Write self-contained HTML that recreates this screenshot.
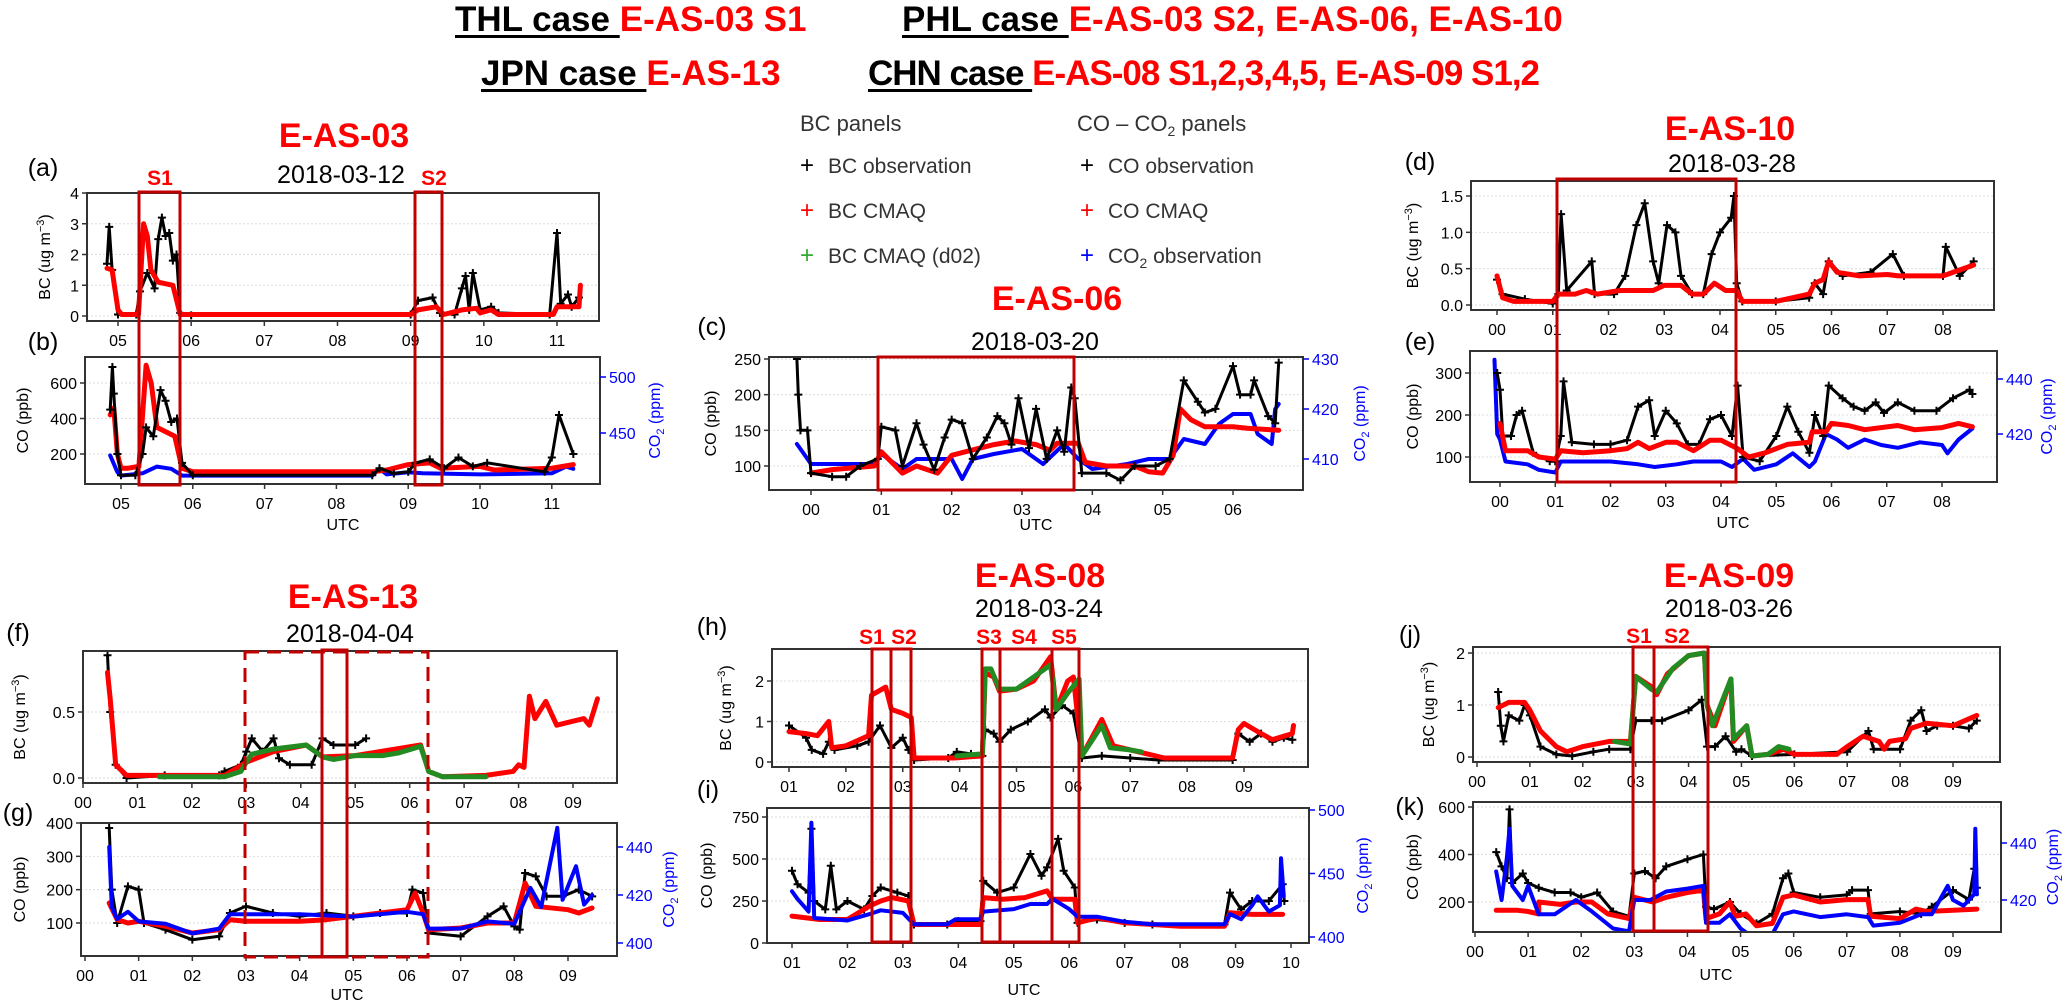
<!DOCTYPE html>
<html><head><meta charset="utf-8">
<style>
html,body{margin:0;padding:0;background:#fff;}
#wrap{position:relative;width:2067px;height:1006px;overflow:hidden;font-family:"Liberation Sans",sans-serif;}
.hdr{position:absolute;font-weight:bold;font-size:35px;white-space:nowrap;line-height:1;}
.hdr .k{color:#000;text-decoration:underline;text-decoration-thickness:3px;text-underline-offset:4px;}
.hdr .r{color:#f00;}
svg{position:absolute;left:0;top:0;}
</style></head>
<body>
<div id="wrap">
<div class="hdr" style="left:455px;top:2px"><span class="k">THL case </span><span class="r">E-AS-03 S1</span></div>
<div class="hdr" style="left:902px;top:2px"><span class="k">PHL case </span><span class="r">E-AS-03 S2, E-AS-06, E-AS-10</span></div>
<div class="hdr" style="left:481px;top:56px"><span class="k">JPN case </span><span class="r">E-AS-13</span></div>
<div class="hdr" style="left:868px;top:56px;letter-spacing:-1px"><span class="k">CHN case </span><span class="r">E-AS-08 S1,2,3,4,5, E-AS-09 S1,2</span></div>
<svg id="fig" width="2067" height="1006" viewBox="0 0 2067 1006"></svg>
</div>
<script>
// ---------- DATA (time in UTC hours, value) ----------
const A_BC_OBS=[[4.85,1.7],[4.88,2.9],[4.92,1.5],[5.0,0.05],[5.25,0.05],[5.3,0.8],[5.4,1.4],[5.5,0.9],[5.55,2.5],[5.6,3.2],[5.65,2.6],[5.7,2.7],[5.75,1.8],[5.8,2.0],[5.85,0.1],[6.0,0.02],[9.0,0.05],[9.1,0.5],[9.3,0.6],[9.4,0.1],[9.6,0.05],[9.7,0.9],[9.75,1.3],[9.8,0.2],[9.85,1.4],[9.95,0.2],[10.1,0.3],[10.2,0.1],[10.9,0.05],[11.0,2.7],[11.05,0.4],[11.15,0.7],[11.2,0.3],[11.3,0.6]];
const A_BC_CMAQ=[[4.85,1.55],[4.92,1.5],[5.0,0.2],[5.05,0.05],[5.28,0.05],[5.35,3.0],[5.4,2.6],[5.45,1.5],[5.55,1.1],[5.75,1.0],[5.85,0.05],[9.0,0.05],[9.1,0.2],[9.35,0.3],[9.45,0.05],[9.7,0.2],[9.9,0.25],[9.95,0.1],[10.1,0.2],[10.2,0.05],[10.95,0.05],[11.0,0.3],[11.3,0.3],[11.32,1.0]];
const B_CO_OBS=[[4.85,450],[4.88,690],[4.9,540],[4.95,200],[5.0,80],[5.2,80],[5.3,200],[5.35,350],[5.45,300],[5.55,560],[5.62,500],[5.7,380],[5.78,400],[5.85,150],[6,80],[8.5,80],[8.6,120],[8.8,90],[9.0,100],[9.1,150],[9.3,170],[9.5,120],[9.7,180],[9.9,130],[10.1,150],[10.9,100],[11,180],[11.1,420],[11.3,200]];
const B_CO_CMAQ=[[4.85,420],[4.9,460],[4.95,200],[5.0,120],[5.1,120],[5.25,130],[5.35,700],[5.42,600],[5.5,350],[5.75,300],[5.85,120],[6.0,100],[8.5,100],[8.7,110],[9.0,140],[9.3,150],[9.45,120],[10,130],[10.2,110],[11,120],[11.3,140]];
const B_CO2_OBS=[[4.85,430],[4.95,415],[5.0,412],[5.3,414],[5.5,420],[5.7,418],[5.85,412],[8.5,412],[8.6,418],[8.7,413],[9.0,415],[9.2,414],[10,413],[11,414],[11.2,420],[11.3,418]];
const C_CO_OBS=[[-0.2,250],[-0.18,200],[-0.15,150],[-0.05,150],[0,90],[0.3,85],[0.5,85],[0.7,100],[0.95,110],[1.0,155],[1.2,150],[1.3,100],[1.5,160],[1.6,130],[1.75,95],[1.9,140],[2.0,165],[2.15,160],[2.3,110],[2.5,140],[2.65,170],[2.75,160],[2.85,130],[2.95,195],[3.1,125],[3.2,180],[3.35,110],[3.5,150],[3.6,120],[3.7,210],[3.75,195],[3.85,90],[4.2,90],[4.4,80],[4.6,100],[4.9,100],[5.1,110],[5.3,220],[5.5,190],[5.6,175],[5.75,180],[6.0,240],[6.1,200],[6.25,200],[6.3,220],[6.5,170],[6.6,160],[6.65,245]];
const C_CO_CMAQ=[[0,90],[0.3,95],[0.9,100],[1.0,120],[1.2,100],[1.3,90],[1.5,100],[1.8,90],[2.0,115],[2.2,120],[2.6,130],[2.9,135],[3.2,130],[3.4,122],[3.5,132],[3.8,132],[3.9,105],[4.2,100],[4.6,100],[4.8,92],[5.0,90],[5.15,115],[5.25,180],[5.4,165],[5.6,155],[6.0,155],[6.2,153],[6.65,150]];
const C_CO2_OBS=[[-0.2,413],[-0.1,411],[0,409],[0.5,409],[0.9,409],[1.0,411],[1.3,408],[1.5,410],[2.0,410],[2.15,406],[2.3,410],[2.6,411],[3.0,412],[3.3,409],[3.6,413],[3.8,410],[4.0,408],[4.5,409],[4.8,410],[5.1,410],[5.3,414],[5.6,413],[5.8,417],[6.0,419],[6.25,419],[6.35,415],[6.55,413],[6.6,420],[6.65,421]];
const D_BC_OBS=[[0,0.35],[0.1,0.15],[0.5,0.08],[1.0,0.02],[1.1,0.15],[1.15,1.25],[1.25,0.2],[1.7,0.6],[1.75,0.15],[2.1,0.15],[2.3,0.4],[2.5,1.1],[2.65,1.4],[2.8,0.6],[2.9,0.3],[3.05,1.1],[3.2,1.0],[3.3,0.4],[3.5,0.15],[3.7,0.15],[3.85,0.7],[4.0,1.0],[4.2,1.2],[4.25,1.5],[4.3,0.3],[4.4,0.05],[5.0,0.05],[5.6,0.1],[5.7,0.3],[5.85,0.15],[5.95,0.6],[6.2,0.4],[6.7,0.45],[7.1,0.7],[7.3,0.4],[8.0,0.4],[8.05,0.8],[8.3,0.4],[8.55,0.6]];
const D_BC_CMAQ=[[0,0.4],[0.1,0.1],[0.3,0.05],[1.0,0.05],[1.1,0.15],[1.4,0.15],[1.6,0.2],[1.8,0.15],[2.2,0.2],[2.8,0.2],[3.0,0.27],[3.3,0.27],[3.5,0.15],[3.7,0.15],[3.9,0.3],[4.1,0.2],[4.3,0.2],[4.4,0.05],[5.0,0.05],[5.6,0.15],[5.7,0.3],[5.85,0.35],[5.95,0.6],[6.1,0.45],[6.5,0.4],[7.0,0.42],[7.2,0.4],[8.0,0.4],[8.55,0.55]];
const E_CO_OBS=[[-0.05,300],[0,260],[0.05,150],[0.2,150],[0.3,200],[0.4,210],[0.6,110],[0.9,90],[1.0,90],[1.1,150],[1.15,280],[1.3,135],[1.7,130],[2.0,130],[2.3,140],[2.5,220],[2.7,235],[2.8,150],[3.0,210],[3.2,180],[3.4,130],[3.6,130],[3.8,190],[4.0,200],[4.2,150],[4.3,270],[4.4,100],[4.7,90],[5.0,150],[5.2,220],[5.4,160],[5.6,110],[5.7,200],[5.85,150],[5.95,270],[6.2,240],[6.4,220],[6.6,210],[6.8,230],[6.95,205],[7.2,230],[7.5,210],[7.9,210],[8.2,240],[8.5,260],[8.55,250]];
const E_CO_CMAQ=[[0,180],[0.1,115],[0.5,115],[0.7,100],[1.0,95],[1.1,115],[1.5,110],[2.0,115],[2.3,120],[2.5,135],[2.7,120],[3.0,135],[3.2,135],[3.5,115],[3.8,140],[4.0,140],[4.3,120],[4.5,100],[4.8,110],[5.2,130],[5.6,135],[5.65,160],[5.9,160],[6.0,180],[6.3,175],[6.6,165],[7.2,175],[7.5,165],[8.0,170],[8.3,180],[8.55,172]];
const E_CO2_OBS=[[-0.1,447],[-0.05,420],[0,418],[0.1,410],[0.5,409],[0.7,407],[1.0,406],[1.1,410],[1.5,410],[2.0,410],[2.5,409],[2.8,408],[3.2,409],[3.5,410],[4.0,410],[4.2,408],[4.4,411],[4.6,407],[5.0,409],[5.3,413],[5.6,408],[5.7,410],[5.9,420],[6.1,418],[6.3,415],[6.6,418],[6.9,416],[7.2,415],[7.6,417],[8.0,416],[8.1,413],[8.3,418],[8.55,422]];
const F_BC_OBS=[[0.45,0.93],[0.5,0.5],[0.6,0.1],[0.8,0.0],[1.5,0.02],[2.5,0.02],[2.6,0.05],[2.9,0.1],[3.0,0.2],[3.1,0.3],[3.3,0.2],[3.5,0.3],[3.6,0.15],[3.8,0.1],[4.2,0.1],[4.4,0.3],[4.6,0.25],[5.0,0.25],[5.2,0.3]];
const F_BC_CMAQ=[[0.45,0.8],[0.5,0.6],[0.6,0.1],[0.8,0.02],[2.6,0.02],[3.0,0.12],[3.5,0.2],[4.1,0.25],[4.4,0.16],[5.0,0.17],[6.2,0.25],[6.35,0.05],[6.6,0.01],[7.4,0.02],[7.9,0.05],[8.0,0.1],[8.1,0.08],[8.2,0.62],[8.3,0.45],[8.5,0.58],[8.7,0.4],[9.0,0.43],[9.2,0.45],[9.3,0.4],[9.45,0.6]];
const F_BC_D02=[[1.4,0.01],[2.6,0.01],[2.9,0.05],[3.0,0.12],[3.1,0.18],[3.5,0.22],[4.1,0.25],[4.2,0.22],[4.4,0.16],[4.6,0.14],[5.0,0.17],[5.5,0.17],[5.8,0.19],[6.2,0.24],[6.35,0.05],[6.6,0.01],[7.4,0.01]];
const G_CO_OBS=[[0.45,385],[0.5,200],[0.6,100],[0.8,210],[1.0,200],[1.1,100],[1.5,80],[2.0,50],[2.5,60],[2.7,130],[3.0,150],[3.5,130],[4.0,120],[4.5,130],[5.0,120],[5.5,130],[6.0,130],[6.1,200],[6.3,190],[6.4,70],[7.0,60],[7.5,120],[7.8,150],[8.0,90],[8.1,80],[8.2,250],[8.4,240],[8.6,180],[8.9,180],[9.2,200],[9.45,180]];
const G_CO_CMAQ=[[0.45,160],[0.6,110],[0.8,100],[1.0,105],[1.5,90],[2.0,70],[2.5,80],[2.7,110],[3.0,105],[4.0,105],[4.5,110],[5.0,120],[6.0,140],[6.15,190],[6.3,130],[6.4,80],[7.0,85],[7.5,100],[8.0,100],[8.2,220],[8.4,150],[9.0,140],[9.2,130],[9.45,145]];
const G_CO2_OBS=[[0.45,440],[0.5,415],[0.6,410],[0.8,413],[1.0,409],[1.5,408],[2.0,404],[2.5,406],[2.7,412],[3.0,412],[4.0,412],[5.0,411],[6.0,413],[6.3,412],[6.4,406],[7.0,406],[7.5,409],[8.0,408],[8.3,423],[8.5,415],[8.8,448],[8.9,418],[9.15,432],[9.3,416],[9.45,420]];
const H_BC_OBS=[[1.0,0.9],[1.3,0.6],[1.4,0.3],[1.6,0.2],[1.7,0.5],[1.8,0.3],[2.2,0.4],[2.4,0.5],[2.6,0.9],[2.8,0.35],[3.0,0.6],[3.1,0.3],[3.2,0.05],[3.8,0.1],[3.95,0.25],[4.2,0.2],[4.4,0.15],[4.45,0.8],[4.6,0.7],[4.7,0.5],[4.9,0.8],[5.2,1.0],[5.5,1.3],[5.6,1.1],[5.8,1.4],[6.0,1.2],[6.15,0.1],[6.5,0.15],[7.0,0.1],[7.5,0.05],[8.8,0.05],[8.9,0.7],[9.1,0.5],[9.3,0.7],[9.5,0.5],[9.7,0.6],[9.85,0.55]];
const H_BC_CMAQ=[[1.0,0.75],[1.3,0.7],[1.5,0.65],[1.7,1.0],[1.75,0.35],[2.0,0.4],[2.4,0.65],[2.45,1.65],[2.7,1.85],[2.8,1.3],[3.0,1.2],[3.15,1.1],[3.2,0.1],[3.9,0.1],[4.4,0.15],[4.45,2.2],[4.6,2.1],[4.7,1.75],[5.0,1.8],[5.3,2.0],[5.6,2.6],[5.7,1.3],[5.9,2.0],[6.0,2.1],[6.15,0.15],[6.5,1.05],[6.7,0.4],[7.0,0.3],[7.3,0.2],[7.6,0.1],[8.8,0.1],[8.9,0.8],[9.0,0.95],[9.3,0.7],[9.5,0.55],[9.85,0.7],[9.87,0.9]];
const H_BC_D02=[[3.95,0.15],[4.4,0.2],[4.45,2.3],[4.55,2.3],[4.7,1.8],[5.0,1.8],[5.3,2.1],[5.6,2.4],[5.7,1.3],[5.9,1.7],[6.1,2.05],[6.15,0.15],[6.5,0.9],[6.65,0.35],[7.0,0.3],[7.2,0.25]];
const I_CO_OBS=[[1.0,430],[1.1,350],[1.3,300],[1.35,680],[1.4,250],[1.6,200],[1.7,460],[1.8,200],[2.0,250],[2.3,200],[2.45,280],[2.6,330],[2.9,300],[3.1,280],[3.2,110],[3.8,110],[4.0,130],[4.4,130],[4.45,370],[4.7,300],[5.0,330],[5.3,530],[5.5,400],[5.6,450],[5.8,620],[5.9,430],[6.1,330],[6.15,120],[6.5,140],[7.0,120],[7.5,110],[8.8,110],[8.9,300],[9.1,200],[9.3,250],[9.6,250],[9.85,350],[9.88,250]];
const I_CO_CMAQ=[[1.0,160],[1.5,140],[2.0,140],[2.4,220],[2.6,250],[2.8,270],[3.1,250],[3.2,110],[4.4,110],[4.45,270],[4.8,260],[5.2,270],[5.6,310],[5.7,260],[6.1,260],[6.15,120],[6.5,150],[7.0,120],[8.0,100],[8.8,100],[8.9,180],[9.3,170],[9.85,170]];
const I_CO2_OBS=[[1.0,436],[1.1,430],[1.3,420],[1.35,490],[1.4,415],[2.0,413],[2.4,418],[2.6,421],[3.0,419],[3.2,410],[3.8,410],[3.95,414],[4.4,414],[4.45,420],[5.0,422],[5.3,426],[5.6,426],[5.7,430],[6.0,422],[6.15,416],[6.5,416],[7.0,412],[7.5,410],[8.8,410],[8.9,418],[9.1,414],[9.3,425],[9.4,432],[9.6,420],[9.8,425],[9.82,462],[9.87,432]];
const J_BC_OBS=[[0.4,1.25],[0.45,0.6],[0.5,0.3],[0.6,0.8],[0.8,0.7],[0.9,1.0],[1.0,0.8],[1.2,0.2],[1.5,0.05],[1.8,0.02],[2.2,0.1],[2.5,0.15],[2.9,0.15],[3.0,0.7],[3.3,0.7],[3.5,0.7],[4.0,0.9],[4.25,1.1],[4.35,0.2],[4.5,0.2],[4.7,0.4],[4.9,0.1],[5.0,0.15],[5.2,0.02],[6.0,0.05],[7.0,0.1],[7.4,0.5],[7.5,0.15],[8.0,0.15],[8.2,0.7],[8.4,0.9],[8.5,0.5],[8.7,0.6],[9.0,0.6],[9.3,0.55],[9.45,0.7]];
const J_BC_CMAQ=[[0.4,0.95],[0.6,1.05],[0.9,1.05],[1.0,0.9],[1.2,0.5],[1.5,0.2],[1.7,0.1],[2.0,0.2],[2.5,0.3],[2.9,0.3],[3.0,1.55],[3.3,1.35],[3.4,1.2],[3.6,1.6],[4.0,1.95],[4.3,2.0],[4.35,1.0],[4.5,0.6],[4.8,1.5],[4.85,0.3],[5.1,0.6],[5.2,0.02],[5.5,0.05],[5.8,0.15],[6.0,0.05],[6.8,0.05],[7.0,0.2],[7.3,0.4],[7.6,0.3],[7.7,0.15],[7.8,0.3],[8.1,0.35],[8.2,0.55],[8.5,0.65],[9.0,0.6],[9.45,0.8]];
const J_BC_D02=[[2.6,0.3],[2.9,0.25],[3.0,1.55],[3.3,1.3],[3.4,1.25],[3.7,1.7],[4.0,1.95],[4.3,2.0],[4.35,1.0],[4.45,0.6],[4.8,1.5],[4.85,0.35],[5.1,0.6],[5.2,0.02],[5.5,0.05],[5.7,0.2],[5.9,0.15]];
const K_CO_OBS=[[0.4,410],[0.5,350],[0.6,300],[0.65,590],[0.7,280],[0.9,320],[1.0,280],[1.2,260],[1.5,240],[1.8,240],[2.0,220],[2.3,240],[2.6,160],[2.9,140],[3.0,320],[3.2,330],[3.4,300],[3.6,350],[4.0,380],[4.3,400],[4.35,180],[4.5,170],[4.8,200],[5.0,150],[5.3,110],[5.6,150],[5.8,300],[5.9,320],[6.0,240],[6.5,220],[7.0,230],[7.1,250],[7.4,250],[7.45,150],[8.0,160],[8.4,150],[8.6,180],[9.0,250],[9.3,210],[9.4,340],[9.45,260]];
const K_CO_CMAQ=[[0.4,165],[0.8,165],[1.0,160],[1.2,150],[1.2,200],[1.6,190],[1.9,200],[2.2,200],[2.5,150],[2.9,130],[3.0,220],[3.35,200],[3.6,220],[4.0,240],[4.3,250],[4.35,130],[4.6,150],[4.8,200],[4.9,140],[5.1,150],[5.3,100],[5.6,110],[5.8,220],[6.0,230],[6.5,200],[7.0,210],[7.4,210],[7.45,140],[8.0,130],[8.3,170],[8.5,160],[9.0,165],[9.45,170]];
const K_CO2_OBS=[[0.4,430],[0.5,420],[0.6,435],[0.65,445],[0.7,425],[0.9,420],[1.0,425],[1.2,415],[1.5,415],[1.9,420],[2.2,416],[2.6,410],[2.9,409],[3.0,420],[3.3,420],[3.6,423],[4.0,424],[4.3,425],[4.35,412],[4.6,412],[4.8,415],[5.0,410],[5.3,406],[5.6,408],[5.8,415],[6.0,416],[6.5,414],[7.0,415],[7.4,414],[7.5,411],[8.0,412],[8.4,415],[8.6,415],[8.9,425],[9.0,420],[9.2,418],[9.4,422],[9.42,445],[9.45,422]];

// tick values
const TICKS_A_X=[5,6,7,8,9,10,11], TICKS_A_Y=[0,1,2,3,4];
const TICKS_B_Y=[200,400,600], TICKS_B_Y2=[450,500];
const TICKS_C_X=[0,1,2,3,4,5,6], TICKS_C_Y=[100,150,200,250], TICKS_C_Y2=[410,420,430];
const TICKS_D_X=[0,1,2,3,4,5,6,7,8], TICKS_D_Y=[0,0.5,1.0,1.5];
const TICKS_E_Y=[100,200,300], TICKS_E_Y2=[420,440];
const TICKS_F_X=[0,1,2,3,4,5,6,7,8,9], TICKS_F_Y=[0,0.5];
const TICKS_G_Y=[100,200,300,400], TICKS_G_Y2=[400,420,440];
const TICKS_H_X=[1,2,3,4,5,6,7,8,9], TICKS_H_Y=[0,1,2];
const TICKS_I_X=[1,2,3,4,5,6,7,8,9,10], TICKS_I_Y=[0,250,500,750], TICKS_I_Y2=[400,450,500];
const TICKS_J_X=[0,1,2,3,4,5,6,7,8,9], TICKS_J_Y=[0,1,2];
const TICKS_K_Y=[200,400,600], TICKS_K_Y2=[420,440];

// ---------- RENDER ----------
const NS='http://www.w3.org/2000/svg';
const svg=document.getElementById('fig');
function mk(tag,attrs,parent){const e=document.createElementNS(NS,tag);for(const k in attrs)e.setAttribute(k,attrs[k]);(parent||svg).appendChild(e);return e;}
function lin(v0,p0,v1,p1){return v=>p0+(v-v0)*(p1-p0)/(v1-v0);}
function txt(x,y,s,opt,parent){const t=mk('text',Object.assign({x:x,y:y,'font-family':'Liberation Sans, sans-serif','font-size':16,fill:'#000'},opt||{}),parent);t.textContent=s;return t;}
let clipN=0;
function panel(p){
  const g=mk('g',{});
  
  
  const [L,T,R,B]=p.box;
  const X=lin(p.xs[0],p.xs[1],p.xs[2],p.xs[3]);
  const Y=lin(p.ys[0],p.ys[1],p.ys[2],p.ys[3]);
  const Y2=p.ys2?lin(p.ys2[0],p.ys2[1],p.ys2[2],p.ys2[3]):null;
  p.yt.forEach(v=>{const l=mk('line',{x1:L,x2:R,y1:Y(v),y2:Y(v),stroke:'#ddd','stroke-width':1,'stroke-dasharray':'2,2'},g);
    
    });
  const id='clip'+(clipN++);
  const cp=mk('clipPath',{id:id},g);mk('rect',{x:L,y:T,width:R-L,height:B-T},cp);
  const sg=mk('g',{'clip-path':'url(#'+id+')'},g);
  p.series.forEach(s=>{
    const sc=s.right?Y2:Y;
    const pts=s.data.map(d=>X(d[0]).toFixed(1)+','+sc(d[1]).toFixed(1)).join(' ');
    const pl=mk('polyline',{points:pts,fill:'none',stroke:s.color,'stroke-width':s.w,'stroke-linejoin':'round','stroke-linecap':'round'},sg);
    
    
    if(s.marks){s.data.forEach(d=>{const x=X(d[0]),y=sc(d[1]);
      const m=mk('path',{d:`M${x-4},${y}H${x+4}M${x},${y-4}V${y+4}`,stroke:s.color,'stroke-width':2},sg);
      
      });}
  });
  const fr=mk('rect',{x:L,y:T,width:R-L,height:B-T,fill:'none',stroke:'#333','stroke-width':2},g);
  
  
  p.xt.forEach(v=>{const x=X(v);mk('line',{x1:x,x2:x,y1:B,y2:B+5,stroke:'#333','stroke-width':1.5},g);
    const t=txt(x,B+25,String(v).padStart(2,'0'),{'text-anchor':'middle'},g);
    
    });
  p.yt.forEach(v=>{const y=Y(v);mk('line',{x1:L-5,x2:L,y1:y,y2:y,stroke:'#333','stroke-width':1.5},g);
    const t=txt(L-8,y+6,p.dec?v.toFixed(1):String(v),{'text-anchor':'end'},g);
    
    });
  if(p.yt2){p.yt2.forEach(v=>{const y=Y2(v);mk('line',{x1:R,x2:R+6,y1:y,y2:y,stroke:'#00f','stroke-width':1.5},g);
    const t=txt(R+9,y+6,String(v),{fill:'#00f'},g);
    
    });
    const rt=mk('text',{x:0,y:0,transform:`translate(${p.y2lx},${(T+B)/2}) rotate(-90)`,'text-anchor':'middle','font-family':'Liberation Sans, sans-serif','font-size':16,fill:'#00f'},g);
    rt.innerHTML='CO<tspan font-size="11" dy="4">2</tspan><tspan dy="-4"> (ppm)</tspan>';
    
    }
  const lt=mk('text',{x:0,y:0,transform:`translate(${p.ylx},${(T+B)/2}) rotate(-90)`,'text-anchor':'middle','font-family':'Liberation Sans, sans-serif','font-size':16},g);
  lt.innerHTML=p.bc?'BC (ug m<tspan font-size="11" dy="-6">−3</tspan><tspan dy="6">)</tspan>':'CO (ppb)';
  
  
  const pl=txt(p.lab[0],p.lab[1],'('+p.id+')',{'font-size':25,'text-anchor':'middle'},g);
  
  
  if(p.utc){const u=txt(p.utc[0],p.utc[1],'UTC',{'text-anchor':'middle'},g);
    
    }
}
const OBS=(d,n)=>({data:d,color:'#000',w:3,marks:true,name:n});
const RED=(d,n)=>({data:d,color:'#f00',w:5,name:n});
const GRN=(d,n)=>({data:d,color:'#228b22',w:5,name:n});
const BLU=(d,n)=>({data:d,color:'#00f',w:4,right:true,name:n});

panel({id:'a',box:[87,193,599,321],xs:[5,118,11,557],ys:[0,316,4,193],xt:TICKS_A_X,yt:TICKS_A_Y,bc:true,ylx:50,lab:[43,176],
  series:[OBS(A_BC_OBS,'bc-observation'),RED(A_BC_CMAQ,'bc-cmaq')]});
panel({id:'b',box:[85,357,600,484],xs:[5,121,10,480],ys:[600,383,200,454],ys2:[500,377,450,433],xt:TICKS_A_X,yt:TICKS_B_Y,yt2:TICKS_B_Y2,y2lx:660,ylx:28,lab:[43,350],utc:[343,530],
  series:[BLU(B_CO2_OBS,'co2-observation'),RED(B_CO_CMAQ,'co-cmaq'),OBS(B_CO_OBS,'co-observation')]});
panel({id:'c',box:[769,357,1303,490],xs:[0,811,6,1233],ys:[250,359,100,466],ys2:[430,359,410,459],xt:TICKS_C_X,yt:TICKS_C_Y,yt2:TICKS_C_Y2,y2lx:1365,ylx:716,lab:[712,335],utc:[1036,530],
  series:[BLU(C_CO2_OBS,'co2-observation'),RED(C_CO_CMAQ,'co-cmaq'),OBS(C_CO_OBS,'co-observation')]});
panel({id:'d',box:[1471,181,1994,310],xs:[0,1497,8,1943],ys:[0,305,1.5,196],xt:TICKS_D_X,yt:TICKS_D_Y,dec:true,bc:true,ylx:1418,lab:[1420,170],
  series:[OBS(D_BC_OBS,'bc-observation'),RED(D_BC_CMAQ,'bc-cmaq')]});
panel({id:'e',box:[1470,351,1997,482],xs:[0,1500,8,1942],ys:[300,373,100,457],ys2:[440,379,420,434],xt:TICKS_D_X,yt:TICKS_E_Y,yt2:TICKS_E_Y2,y2lx:2052,ylx:1418,lab:[1420,350],utc:[1733,528],
  series:[BLU(E_CO2_OBS,'co2-observation'),OBS(E_CO_OBS,'co-observation'),RED(E_CO_CMAQ,'co-cmaq')]});
panel({id:'f',box:[83,651,617,783],xs:[0,83,9,573],ys:[0,778,0.5,712],xt:TICKS_F_X,yt:TICKS_F_Y,dec:true,bc:true,ylx:25,lab:[18,641],
  series:[OBS(F_BC_OBS,'bc-observation'),RED(F_BC_CMAQ,'bc-cmaq'),GRN(F_BC_D02,'bc-cmaq-d02')]});
panel({id:'g',box:[81,823,617,956],xs:[0,85,9,568],ys:[400,823,100,923],ys2:[440,847,400,943],xt:TICKS_F_X,yt:TICKS_G_Y,yt2:TICKS_G_Y2,y2lx:674,ylx:25,lab:[18,821],utc:[347,1000],
  series:[OBS(G_CO_OBS,'co-observation'),RED(G_CO_CMAQ,'co-cmaq'),BLU(G_CO2_OBS,'co2-observation')]});
panel({id:'h',box:[772,649,1308,767],xs:[1,789,9,1244],ys:[0,762,2,681],xt:TICKS_H_X,yt:TICKS_H_Y,bc:true,ylx:731,lab:[712,635],
  series:[OBS(H_BC_OBS,'bc-observation'),RED(H_BC_CMAQ,'bc-cmaq'),GRN(H_BC_D02,'bc-cmaq-d02')]});
panel({id:'i',box:[767,808,1309,943],xs:[1,792,10,1291],ys:[0,943,750,817],ys2:[500,810,400,937],xt:TICKS_I_X,yt:TICKS_I_Y,yt2:TICKS_I_Y2,y2lx:1368,ylx:712,lab:[708,798],utc:[1024,995],
  series:[OBS(I_CO_OBS,'co-observation'),RED(I_CO_CMAQ,'co-cmaq'),BLU(I_CO2_OBS,'co2-observation')]});
panel({id:'j',box:[1473,647,2000,762],xs:[0,1477,9,1953],ys:[0,757,2,653],xt:TICKS_J_X,yt:TICKS_J_Y,bc:true,ylx:1434,lab:[1410,643],
  series:[OBS(J_BC_OBS,'bc-observation'),RED(J_BC_CMAQ,'bc-cmaq'),GRN(J_BC_D02,'bc-cmaq-d02')]});
panel({id:'k',box:[1473,802,2001,932],xs:[0,1475,9,1953],ys:[600,807,200,902],ys2:[440,843,420,900],xt:TICKS_J_X,yt:TICKS_K_Y,yt2:TICKS_K_Y2,y2lx:2058,ylx:1418,lab:[1410,815],utc:[1716,980],
  series:[OBS(K_CO_OBS,'co-observation'),RED(K_CO_CMAQ,'co-cmaq'),BLU(K_CO2_OBS,'co2-observation')]});

function box(x1,y1,x2,y2,name,dash){const r=mk('rect',{x:x1,y:y1,width:x2-x1,height:y2-y1,fill:'none',stroke:'#c00000','stroke-width':3,'stroke-dasharray':dash||'none'});
  
  }
box(139,192,180,485,'highlight-s1-eas03');box(415,192,442,485,'highlight-s2-eas03');
box(878,357,1074,490,'highlight-eas06');
box(1557,179,1736,482,'highlight-eas10');
box(245,652,428,957,'highlight-eas13-dashed','14,8');box(322,650,347,957,'highlight-eas13');
[[872,891],[891,911],[982,1000],[1000,1052],[1052,1079]].forEach((b,i)=>box(b[0],649,b[1],942,'highlight-eas08-s'+(i+1)));
[[1633,1654],[1654,1708]].forEach((b,i)=>box(b[0],647,b[1],931,'highlight-eas09-s'+(i+1)));

function title(x,y,s,size,color,bold,name){const t=txt(x,y,s,{'font-size':size,fill:color,'font-weight':bold?'bold':'normal','text-anchor':'middle'});
  
  }
title(344,147,'E-AS-03',34,'#f00',true,'title-eas03');title(341,183,'2018-03-12',25,'#000',false,'date-eas03');
title(1057,310,'E-AS-06',34,'#f00',true,'title-eas06');title(1035,350,'2018-03-20',25,'#000',false,'date-eas06');
title(1730,140,'E-AS-10',34,'#f00',true,'title-eas10');title(1732,172,'2018-03-28',25,'#000',false,'date-eas10');
title(353,608,'E-AS-13',34,'#f00',true,'title-eas13');title(350,642,'2018-04-04',25,'#000',false,'date-eas13');
title(1040,587,'E-AS-08',34,'#f00',true,'title-eas08');title(1039,617,'2018-03-24',25,'#000',false,'date-eas08');
title(1729,587,'E-AS-09',34,'#f00',true,'title-eas09');title(1729,617,'2018-03-26',25,'#000',false,'date-eas09');
[[160,'S1'],[434,'S2']].forEach(s=>title(s[0],185,s[1],21,'#f00',true,'label-eas03-'+s[1]));
[[872,'S1'],[904,'S2'],[989,'S3'],[1024,'S4'],[1064,'S5']].forEach(s=>title(s[0],644,s[1],21,'#f00',true,'label-eas08-'+s[1]));
[[1639,'S1'],[1677,'S2']].forEach(s=>title(s[0],643,s[1],21,'#f00',true,'label-eas09-'+s[1]));

const lg=mk('g',{'font-family':'Liberation Sans, sans-serif'});


function lgt(x,y,s,c,sz){const t=txt(x,y,s,{fill:c||'#333','font-size':sz||21},lg);return t;}
lgt(800,131,'BC panels',null,22);
const ch=lgt(1077,131,'',null,22);ch.innerHTML='CO – CO<tspan font-size="14" dy="5">2</tspan><tspan dy="-5"> panels</tspan>';

const items=[[800,173,'#000','BC observation'],[800,218,'#f00','BC CMAQ'],[800,263,'#3a3','BC CMAQ (d02)'],[1080,173,'#000','CO observation'],[1080,218,'#f00','CO CMAQ'],[1080,263,'#00f','CO2 observation']];
items.forEach(it=>{
  const pl=lgt(it[0],it[1],'+',it[2],24);
  
  const t=lgt(it[0]+28,it[1],'',null,21);
  if(it[3]==='CO2 observation'){t.innerHTML='CO<tspan font-size="14" dy="5">2</tspan><tspan dy="-5"> observation</tspan>';}else{t.textContent=it[3];}
  
});
</script>
</body></html>
